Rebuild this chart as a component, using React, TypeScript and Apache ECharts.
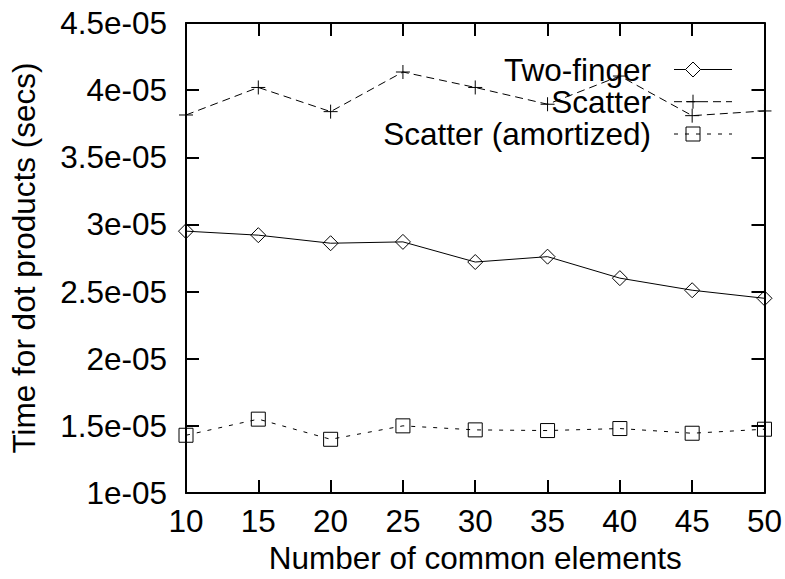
import React, { useEffect, useRef } from 'react';
import * as echarts from 'echarts';

const xValues = [10, 15, 20, 25, 30, 35, 40, 45, 50];
const twoFinger = [2.95e-5, 2.92e-5, 2.86e-5, 2.87e-5, 2.72e-5, 2.76e-5, 2.6e-5, 2.51e-5, 2.45e-5];
const scatter = [3.815e-5, 4.02e-5, 3.84e-5, 4.135e-5, 4.02e-5, 3.895e-5, 4.105e-5, 3.81e-5, 3.845e-5];
const scatterAmortized = [1.43e-5, 1.55e-5, 1.4e-5, 1.5e-5, 1.47e-5, 1.465e-5, 1.48e-5, 1.445e-5, 1.475e-5];
const seriesNames = ['Two-finger', 'Scatter', 'Scatter (amortized)'];
const yTickLabels = ['1e-05', '1.5e-05', '2e-05', '2.5e-05', '3e-05', '3.5e-05', '4e-05', '4.5e-05'];
const xAxisTitle = 'Number of common elements';
const yAxisTitle = 'Time for dot products (secs)';

const X_MIN = 10;
const X_MAX = 50;
const X_STEP = 5;
const Y_MIN = 1e-5;
const Y_MAX = 4.5e-5;
const Y_STEP = 0.5e-5;

const FONT = '"Liberation Sans", Arial, Helvetica, sans-serif';
const FS = 31.5;

const toPairs = (ys: number[]) => xValues.map((x, i) => [x, ys[i]]);

export default function App() {
  const ref = useRef<HTMLDivElement>(null);

  useEffect(() => {
    if (!ref.current) return;
    const chart = echarts.init(ref.current, undefined, { renderer: 'svg' });

    const axisLine = { show: true, onZero: false, lineStyle: { color: '#000', width: 2 } };
    const axisTick = { show: true, inside: true, length: 13, lineStyle: { color: '#000', width: 2 } };
    const textBase = { color: '#000', fontSize: FS, fontFamily: FONT };

    // Legend (gnuplot style: text right-aligned, sample line with symbol)
    const rowYs = [69.5, 101.7, 134];
    const textRight = 651;
    const lx1 = 674;
    const lx2 = 732;
    const sx = 693;
    const dashes: any[] = [null, [8, 5], [4, 7]];
    const legendEls: any[] = [];
    seriesNames.forEach((name, i) => {
      const y = rowYs[i];
      legendEls.push({
        type: 'text',
        x: textRight,
        y,
        style: {
          text: name,
          fill: '#000',
          font: `${FS}px ${FONT}`,
          lineHeight: 29,
          align: 'right',
          verticalAlign: 'middle',
        },
      });
      legendEls.push({
        type: 'line',
        shape: { x1: lx1, y1: y, x2: lx2, y2: y },
        style: { stroke: '#000', lineWidth: 1, lineDash: dashes[i] || undefined },
      });
      if (i === 0) {
        legendEls.push({
          type: 'polygon',
          shape: { points: [[sx, y - 7.5], [sx + 7.5, y], [sx, y + 7.5], [sx - 7.5, y]] },
          style: { fill: '#fff', stroke: '#000', lineWidth: 1 },
        });
      } else if (i === 1) {
        legendEls.push({ type: 'line', shape: { x1: sx - 7, y1: y, x2: sx + 7, y2: y }, style: { stroke: '#000', lineWidth: 1 } });
        legendEls.push({ type: 'line', shape: { x1: sx, y1: y - 7, x2: sx, y2: y + 7 }, style: { stroke: '#000', lineWidth: 1 } });
      } else {
        legendEls.push({
          type: 'rect',
          shape: { x: sx - 7, y: y - 7, width: 14, height: 14 },
          style: { fill: 'none', stroke: '#000', lineWidth: 1 },
        });
      }
    });

    const option: any = {
      animation: false,
      backgroundColor: '#fff',
      grid: { left: 186, right: 20, top: 23, bottom: 77, containLabel: false },
      xAxis: [
        {
          type: 'value',
          position: 'bottom',
          min: X_MIN,
          max: X_MAX,
          interval: X_STEP,
          axisLine,
          axisTick,
          splitLine: { show: false },
          axisLabel: { ...textBase, margin: 12 },
          name: xAxisTitle,
          nameLocation: 'middle',
          nameGap: 49,
          nameTextStyle: { ...textBase },
        },
        {
          type: 'value',
          position: 'top',
          min: X_MIN,
          max: X_MAX,
          interval: X_STEP,
          axisLine,
          axisTick,
          splitLine: { show: false },
          axisLabel: { show: false },
        },
      ],
      yAxis: [
        {
          type: 'value',
          position: 'left',
          min: Y_MIN,
          max: Y_MAX,
          interval: Y_STEP,
          axisLine,
          axisTick,
          splitLine: { show: false },
          axisLabel: {
            ...textBase,
            margin: 19,
            formatter: (v: number) => yTickLabels[Math.round((v - Y_MIN) / Y_STEP)] ?? '',
          },
          name: yAxisTitle,
          nameLocation: 'middle',
          nameGap: 146,
          nameTextStyle: { ...textBase },
        },
        {
          type: 'value',
          position: 'right',
          min: Y_MIN,
          max: Y_MAX,
          interval: Y_STEP,
          axisLine,
          axisTick,
          splitLine: { show: false },
          axisLabel: { show: false },
        },
      ],
      series: [
        {
          name: seriesNames[0],
          type: 'line',
          data: toPairs(twoFinger),
          symbol: 'diamond',
          symbolSize: 15,
          clip: false,
          itemStyle: { color: 'transparent', borderColor: '#000', borderWidth: 1 },
          lineStyle: { color: '#000', width: 1, type: 'solid' },
        },
        {
          name: seriesNames[1],
          type: 'line',
          data: toPairs(scatter),
          symbol: 'path://M0,-7L0,7M-7,0L7,0',
          symbolSize: 14,
          clip: false,
          itemStyle: { color: 'transparent', borderColor: '#000', borderWidth: 1 },
          lineStyle: { color: '#000', width: 1, type: [8, 5] },
        },
        {
          name: seriesNames[2],
          type: 'line',
          data: toPairs(scatterAmortized),
          symbol: 'rect',
          symbolSize: 14,
          clip: false,
          itemStyle: { color: 'transparent', borderColor: '#000', borderWidth: 1 },
          lineStyle: { color: '#000', width: 1, type: [4, 7] },
        },
      ],
      graphic: legendEls,
    };

    chart.setOption(option);
    return () => chart.dispose();
  }, []);

  return (
    <div
      ref={ref}
      style={{ position: 'fixed', left: 0, top: 0, width: 785, height: 579, background: '#fff' }}
    />
  );
}
